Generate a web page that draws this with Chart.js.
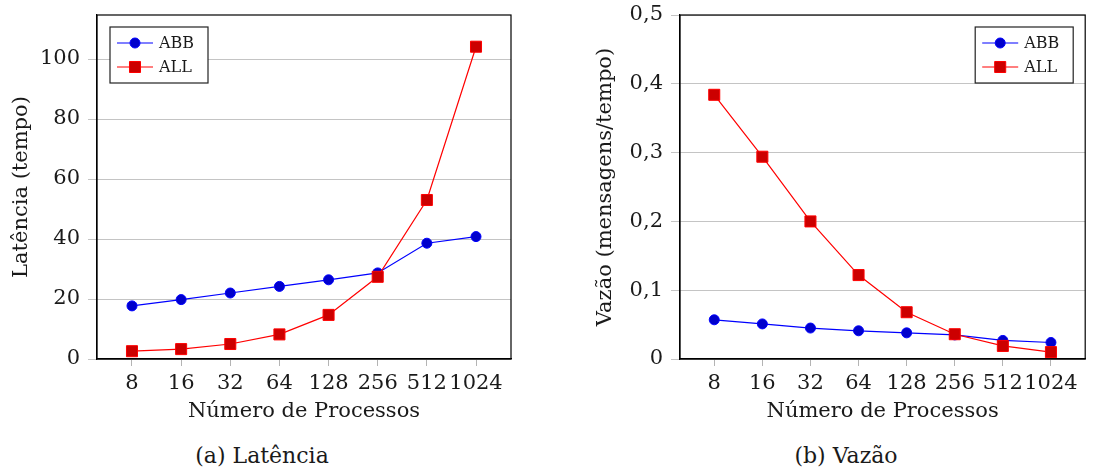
<!DOCTYPE html>
<html>
<head>
<meta charset="utf-8">
<script src="https://cdn.jsdelivr.net/npm/chart.js@4.4.1/dist/chart.umd.min.js"></script>
<style>
    body { margin: 0; background: #fff; width: 1094px; height: 473px; position: relative; overflow: hidden; font-family: "DejaVu Serif", serif; }
    canvas { position: absolute; top: 0; }
    #latCanvas { left: 0; }
    #vazCanvas { left: 584px; }
    .caption { position: absolute; top: 443px; font-size: 22px; color: #1a1a1a; transform: translateX(-50%); white-space: nowrap; }
</style>
</head>
<body>
<canvas id="latCanvas" width="530" height="440"></canvas>
<canvas id="vazCanvas" width="510" height="440"></canvas>
<div class="caption" style="left:262px">(a) Latência</div>
<div class="caption" style="left:846px">(b) Vazão</div>
<script>
// Dados
var processos = ['8', '16', '32', '64', '128', '256', '512', '1024'];
var latenciaABB = [17.7, 19.8, 22.0, 24.2, 26.4, 28.7, 38.6, 40.8];
var latenciaALL = [2.6, 3.3, 5.0, 8.2, 14.7, 27.4, 53.0, 104.1];
var vazaoABB = [0.057, 0.051, 0.045, 0.041, 0.038, 0.035, 0.027, 0.024];
var vazaoALL = [0.384, 0.294, 0.200, 0.122, 0.068, 0.036, 0.019, 0.010];
var latenciaTicks = [0, 20, 40, 60, 80, 100];
var vazaoTicks = [0, 0.1, 0.2, 0.3, 0.4, 0.5];

var fonte = '"DejaVu Serif", serif';
var corTexto = '#1a1a1a';

// caixa completa em volta da área do gráfico + legenda dentro
var boxLegend = {
    id: 'boxLegend',
    afterDraw: function (chart, args, opts) {
        var ctx = chart.ctx;
        var a = chart.chartArea;
        ctx.save();
        ctx.strokeStyle = '#000';
        ctx.lineWidth = 1.2;
        ctx.strokeRect(a.left, a.top, a.right - a.left, a.bottom - a.top);

        var w = 98, h = 56;
        var x = opts.side === 'right' ? a.right - 12 - w : a.left + 13;
        var y = a.top + 12;
        ctx.fillStyle = '#fff';
        ctx.fillRect(x, y, w, h);
        ctx.strokeStyle = '#222';
        ctx.lineWidth = 1.2;
        ctx.strokeRect(x, y, w, h);

        chart.data.datasets.forEach(function (ds, i) {
            var ry = y + 16 + i * 24;
            ctx.strokeStyle = ds.borderColor;
            ctx.lineWidth = 1.2;
            ctx.beginPath();
            ctx.moveTo(x + 7, ry);
            ctx.lineTo(x + 43, ry);
            ctx.stroke();
            ctx.fillStyle = ds.pointBackgroundColor;
            ctx.strokeStyle = ds.borderColor;
            ctx.lineWidth = 1;
            Chart.helpers.drawPoint(ctx, {pointStyle: ds.pointStyle, radius: ds.pointRadius, rotation: 0, borderWidth: 1}, x + 25, ry);
            ctx.fillStyle = corTexto;
            ctx.font = '16px ' + fonte;
            ctx.textBaseline = 'middle';
            ctx.textAlign = 'left';
            ctx.fillText(ds.label, x + 49, ry + 1);
        });
        ctx.restore();
    }
};

function makeChart(canvasId, abb, all, yTicks, yMax, yTitle, yWidth, padRight, legendSide, fmt) {
    var ctx = document.getElementById(canvasId).getContext('2d');
    var toPts = function (arr) { return arr.map(function (v, i) { return {x: i, y: v}; }); };
    return new Chart(ctx, {
        type: 'line',
        data: {
            datasets: [{
                label: 'ABB',
                data: toPts(abb),
                borderColor: '#0000ff',
                backgroundColor: '#0000cc',
                pointBackgroundColor: '#0000cc',
                pointBorderColor: '#0000ff',
                pointStyle: 'circle',
                pointRadius: 5,
                pointBorderWidth: 1,
                borderWidth: 1.2,
                order: 1
            }, {
                label: 'ALL',
                data: toPts(all),
                borderColor: '#ff0000',
                backgroundColor: '#cc0000',
                pointBackgroundColor: '#cc0000',
                pointBorderColor: '#ff0000',
                pointStyle: 'rect',
                pointRadius: 7.8,
                pointBorderWidth: 1,
                borderWidth: 1.2,
                order: 0
            }]
        },
        options: {
            responsive: false,
            animation: false,
            layout: { padding: { top: 15, right: padRight, left: 0, bottom: 0 } },
            plugins: {
                legend: { display: false },
                tooltip: { enabled: false },
                boxLegend: { side: legendSide }
            },
            scales: {
                x: {
                    type: 'linear',
                    min: -0.712,
                    max: 7.712,
                    afterBuildTicks: function (scale) {
                        scale.ticks = processos.map(function (p, i) { return {value: i}; });
                    },
                    afterFit: function (scale) {
                        scale.height = 81;
                        scale.paddingLeft = 0;
                        scale.paddingRight = 0;
                    },
                    ticks: {
                        font: { family: fonte, size: 21 },
                        color: corTexto,
                        padding: 5,
                        maxRotation: 0,
                        callback: function (v) { return processos[v]; }
                    },
                    grid: { drawOnChartArea: false, tickLength: 7, color: '#b4b4b4' },
                    border: { display: true, color: '#000', width: 1.2 },
                    title: {
                        display: true,
                        text: 'Número de Processos',
                        font: { family: fonte, size: 21, lineHeight: 1.2 },
                        color: corTexto,
                        padding: { top: 0, bottom: 16 }
                    }
                },
                y: {
                    min: 0,
                    max: yMax,
                    afterBuildTicks: function (scale) {
                        scale.ticks = yTicks.map(function (v) { return {value: v}; });
                    },
                    afterFit: function (scale) {
                        scale.width = yWidth;
                        scale.paddingTop = 0;
                        scale.paddingBottom = 0;
                    },
                    ticks: {
                        font: { family: fonte, size: 21 },
                        color: corTexto,
                        padding: 8,
                        callback: fmt
                    },
                    grid: { color: '#c4c4c4', tickLength: 9, lineWidth: 1 },
                    border: { display: true, color: '#000', width: 1.2 },
                    title: {
                        display: true,
                        text: yTitle,
                        font: { family: fonte, size: 21, lineHeight: 1.2 },
                        color: corTexto,
                        padding: { top: 9, bottom: 0 }
                    }
                }
            }
        },
        plugins: [boxLegend]
    });
}

makeChart('latCanvas', latenciaABB, latenciaALL, latenciaTicks, 114.67, 'Latência (tempo)', 97, 19, 'left',
    function (v) { return String(v); });
makeChart('vazCanvas', vazaoABB, vazaoALL, vazaoTicks, 0.5, 'Vazão (mensagens/tempo)', 96, 1, 'right',
    function (v) { return v === 0 ? '0' : v.toFixed(1).replace('.', ','); });
</script>
</body>
</html>
